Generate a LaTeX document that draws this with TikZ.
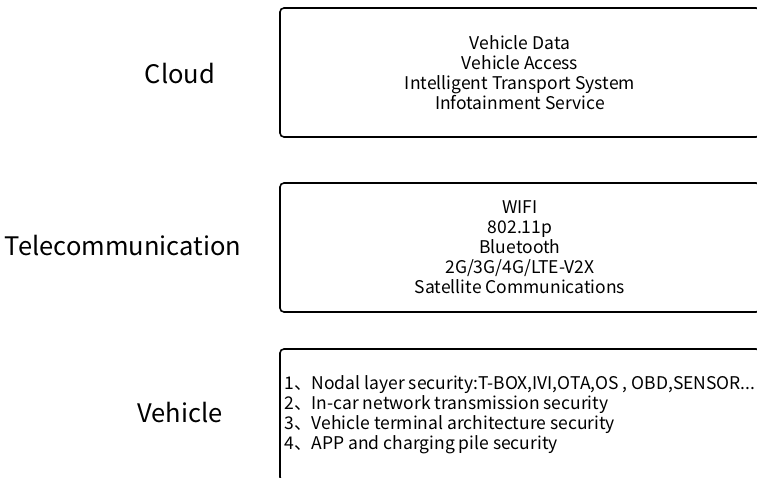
\documentclass[tikz,border=0pt]{standalone}
\usepackage{fontspec}
\setmainfont{Noto Sans CJK SC}
\usetikzlibrary{positioning}

\begin{document}
\begin{tikzpicture}[x=1pt,y=-1pt,
  layerbox/.style={draw,line width=1.6pt,rounded corners=4pt,minimum width=480pt,font=\fontsize{17.5}{20}\selectfont},
  layername/.style={font=\fontsize{25.5}{30}\selectfont}]
\useasboundingbox (0,0) rectangle (757,478);
\clip (0,0) rectangle (757,478);

\node[layerbox,minimum height=129pt,align=center] (cloudbox) at (520,72.5) {Vehicle Data\\Vehicle Access\\Intelligent Transport System\\Infotainment Service};
\node[layerbox,minimum height=129pt,align=center] (telebox) at (520,247.5) {WIFI\\802.11p\\Bluetooth\\2G/3G/4G/LTE-V2X\\Satellite Communications};
\node[layerbox,minimum height=132pt,align=left] (vehbox) at (520,415) {1、Nodal layer security:T-BOX,IVI,OTA,OS , OBD,SENSOR...\\2、In-car network transmission security\\3、Vehicle terminal architecture security\\4、APP and charging pile security};

\node[layername] (cloud) at (180,74) {Cloud};
\node[layername] (tele) at (123,246) {Telecommunication};
\node[layername] (veh) at (180,413) {Vehicle};
\end{tikzpicture}
\end{document}
